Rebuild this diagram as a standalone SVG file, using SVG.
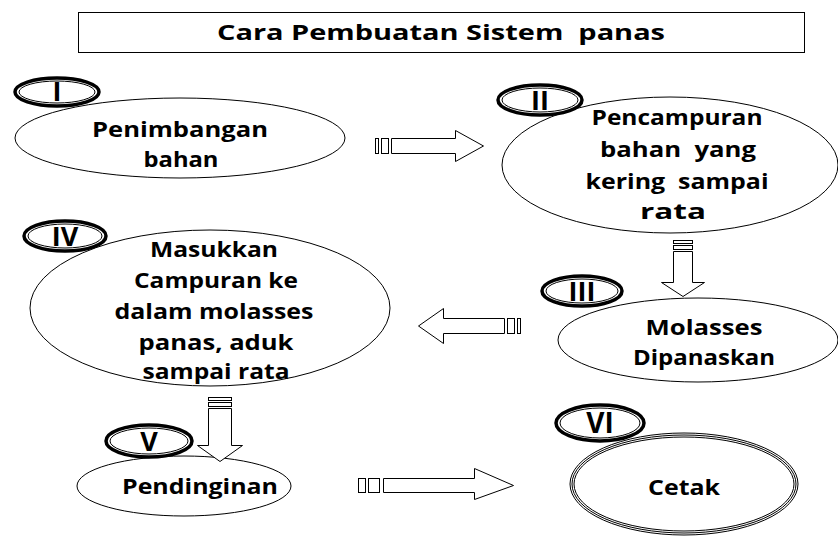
<svg xmlns="http://www.w3.org/2000/svg" width="838" height="537" viewBox="0 0 838 537">
<style>
.t{font-family:"Open Sans","Liberation Sans",sans-serif;font-weight:bold;font-size:22px;fill:#000;text-anchor:middle;white-space:pre}
.lbl{font-family:"Open Sans","Liberation Sans",sans-serif;font-weight:bold;font-size:27px;fill:#000;text-anchor:middle}
.e{fill:#fff;stroke:#000;stroke-width:1}
.c{fill:none;stroke:#000;stroke-width:1}
.lo{fill:#fff;stroke:#000;stroke-width:3.5}
.li{fill:none;stroke:#000;stroke-width:1}
.a{fill:#fff;stroke:#000;stroke-width:1}
</style>
<rect width="838" height="537" fill="#fff"/>
<g id="title">
<rect x="78.5" y="12.5" width="726" height="40" fill="#fff" stroke="#000"/>
<text class="t" x="441" y="40" textLength="448" lengthAdjust="spacingAndGlyphs">Cara Pembuatan Sistem  panas</text>
</g>
<g id="node1">
<ellipse class="e" cx="180" cy="138" rx="165" ry="40"/>
<ellipse class="lo" cx="57" cy="92" rx="42" ry="14"/>
<ellipse class="li" cx="57" cy="92" rx="38" ry="11"/>
<text class="lbl" x="57" y="101">I</text>
<text class="t" x="180" y="137" textLength="176" lengthAdjust="spacingAndGlyphs">Penimbangan</text>
<text class="t" x="181" y="167" textLength="75" lengthAdjust="spacingAndGlyphs">bahan</text>
</g>
<g id="node2">
<ellipse class="e" cx="670" cy="165" rx="168" ry="68"/>
<ellipse class="lo" cx="540" cy="100" rx="42" ry="15"/>
<ellipse class="li" cx="540" cy="100" rx="38" ry="12"/>
<text class="lbl" x="540" y="110">II</text>
<text class="t" x="677" y="125" textLength="171" lengthAdjust="spacingAndGlyphs">Pencampuran</text>
<text class="t" x="678" y="157" textLength="156" lengthAdjust="spacingAndGlyphs">bahan  yang</text>
<text class="t" x="677" y="189" textLength="183" lengthAdjust="spacingAndGlyphs">kering  sampai</text>
<text class="t" x="673" y="219" textLength="66" lengthAdjust="spacingAndGlyphs">rata</text>
</g>
<g id="node3">
<ellipse class="e" cx="698" cy="340" rx="140" ry="42"/>
<ellipse class="lo" cx="582" cy="291" rx="40" ry="15"/>
<ellipse class="li" cx="582" cy="291" rx="36" ry="12"/>
<text class="lbl" x="582" y="301">III</text>
<text class="t" x="704" y="335" textLength="117" lengthAdjust="spacingAndGlyphs">Molasses</text>
<text class="t" x="704" y="365" textLength="142" lengthAdjust="spacingAndGlyphs">Dipanaskan</text>
</g>
<g id="node4">
<ellipse class="e" cx="210" cy="308" rx="180" ry="78"/>
<ellipse class="lo" cx="65" cy="236" rx="41" ry="15"/>
<ellipse class="li" cx="65" cy="236" rx="37" ry="12"/>
<text class="lbl" x="65" y="246">IV</text>
<text class="t" x="214" y="257" textLength="128" lengthAdjust="spacingAndGlyphs">Masukkan</text>
<text class="t" x="216" y="288" textLength="164" lengthAdjust="spacingAndGlyphs">Campuran ke</text>
<text class="t" x="214" y="319" textLength="199" lengthAdjust="spacingAndGlyphs">dalam molasses</text>
<text class="t" x="216" y="350" textLength="155" lengthAdjust="spacingAndGlyphs">panas, aduk</text>
<text class="t" x="216" y="379" textLength="147" lengthAdjust="spacingAndGlyphs">sampai rata</text>
</g>
<g id="node5">
<ellipse class="e" cx="184" cy="486" rx="107" ry="30"/>
<ellipse class="lo" cx="149" cy="441" rx="43" ry="16"/>
<ellipse class="li" cx="149" cy="441" rx="39" ry="13"/>
<text class="lbl" x="149" y="451">V</text>
<text class="t" x="200" y="494" textLength="156" lengthAdjust="spacingAndGlyphs">Pendinginan</text>
</g>
<g id="node6">
<ellipse class="e" cx="684" cy="484" rx="114" ry="51"/>
<ellipse class="c" cx="684" cy="484" rx="112" ry="49"/>
<ellipse class="c" cx="684" cy="484" rx="110" ry="47"/>
<ellipse class="lo" cx="600" cy="423" rx="44" ry="18"/>
<ellipse class="li" cx="600" cy="423" rx="40" ry="15"/>
<text class="lbl" x="600" y="433" style="font-size:28px">VI</text>
<text class="t" x="684" y="495" textLength="72" lengthAdjust="spacingAndGlyphs">Cetak</text>
</g>
<g id="connectors">
<g id="a1">
<rect class="a" x="375.5" y="138.5" width="3" height="15"/>
<rect class="a" x="381.5" y="138.5" width="7" height="15"/>
<polygon class="a" points="391.5,138.5 455.5,138.5 455.5,130.5 483.5,146 455.5,161.5 455.5,153.5 391.5,153.5"/>
</g>
<g id="a2">
<rect class="a" x="673.5" y="240.5" width="19" height="3"/>
<rect class="a" x="673.5" y="245.5" width="19" height="4"/>
<polygon class="a" points="673.5,251.5 692.5,251.5 692.5,282.5 704.5,282.5 683,296.5 661.5,282.5 673.5,282.5"/>
</g>
<g id="a3">
<rect class="a" x="517.5" y="318.5" width="3" height="15"/>
<rect class="a" x="507.5" y="318.5" width="7" height="15"/>
<polygon class="a" points="504.5,318.5 443.5,318.5 443.5,308.5 418.5,326 443.5,343.5 443.5,333.5 504.5,333.5"/>
</g>
<g id="a4">
<rect class="a" x="208.5" y="397.5" width="23" height="3"/>
<rect class="a" x="208.5" y="402.5" width="23" height="4"/>
<polygon class="a" points="208.5,408.5 231.5,408.5 231.5,445.5 242.5,445.5 220,461.5 197.5,445.5 208.5,445.5"/>
</g>
<g id="a5">
<rect class="a" x="358.5" y="478.5" width="7" height="14"/>
<rect class="a" x="368.5" y="478.5" width="11" height="14"/>
<polygon class="a" points="383.5,478.5 474.5,478.5 474.5,468.5 513.5,485.5 474.5,499.5 474.5,492.5 383.5,492.5"/>
</g>
</g>
</svg>
